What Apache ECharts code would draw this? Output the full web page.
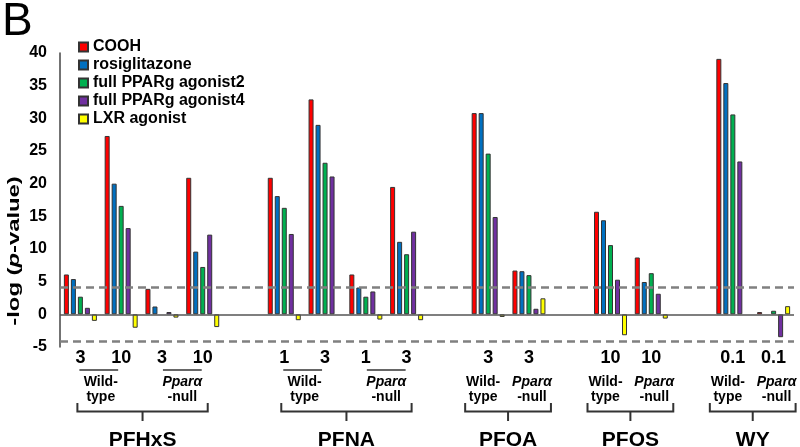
<!DOCTYPE html>
<html><head><meta charset="utf-8">
<script src="https://cdn.jsdelivr.net/npm/echarts@6/dist/echarts.min.js"></script>
<style>html,body{margin:0;padding:0;background:#fff}#c{width:800px;height:447px}</style>
</head><body><div id="c"></div>
<script>
const categories = ['PFHxS WT 3','PFHxS WT 10','PFHxS null 3','PFHxS null 10','gap1',
  'PFNA WT 1','PFNA WT 3','PFNA null 1','PFNA null 3','gap2',
  'PFOA WT 3','PFOA null 3','gap3','PFOS WT 10','PFOS null 10','gap4','WY WT 0.1','WY null 0.1'];
const doseLabels = ['3','10','3','10','','1','3','1','3','','3','3','','10','10','','0.1','0.1'];
const seriesNames = ['COOH','rosiglitazone','full PPARg agonist2','full PPARg agonist4','LXR agonist'];
const cooh   = [6.1, 27.3, 3.9, 20.9, null, 20.9, 32.9, 6.1, 19.5, null, 30.8, 6.7, null, 15.7, 8.7, null, 39.1, 0.35];
const rosi   = [5.4, 20.0, 1.2, 9.6, null, 18.1, 29.0, 4.1, 11.1, null, 30.8, 6.6, null, 14.4, 4.95, null, 35.4, null];
const agon2  = [2.7, 16.6, null, 7.25, null, 16.3, 23.2, 2.7, 9.2, null, 24.6, 6.0, null, 10.6, 6.3, null, 30.6, 0.55];
const agon4  = [1.0, 13.2, 0.35, 12.2, null, 12.3, 21.1, 3.5, 12.65, null, 14.9, 0.85, null, 5.3, 3.15, null, 23.4, -3.5];
const lxr    = [-1.0, -2.05, -0.5, -1.95, null, -0.9, null, -0.8, -0.9, null, -0.4, 2.45, null, -3.2, -0.65, null, null, 1.25];
const compounds = ['PFHxS','PFNA','PFOA','PFOS','WY'];
const compoundIdx = [[0,1,2,3],[5,6,7,8],[10,11],[13,14],[16,17]];
const thresholds = [4.1, -4.1];
const yMin = -5, yMax = 40, yStep = 5;

const FF = '"Liberation Sans", Arial, sans-serif';
const colors = ['#ff0000','#0070c0','#00b050','#7030a0','#ffff00'];
const allData = [cooh, rosi, agon2, agon4, lxr];

const chart = echarts.init(document.getElementById('c'));
const series = allData.map((d, k) => ({
  name: seriesNames[k], type: 'bar', data: d, barWidth: 5, barGap: '40%',
  itemStyle: { color: colors[k], borderColor: '#333', borderWidth: 1 },
  silent: true,
  markLine: k === 0 ? {
    silent: true, symbol: 'none', label: { show: false }, animation: false,
    data: [
      { yAxis: 0, lineStyle: { type: 'solid', color: '#555', width: 1.5 } },
      ...thresholds.map(t => ({ yAxis: t, lineStyle: { type: [8, 5], color: '#808080', width: 2.5 } }))
    ]
  } : undefined
}));

chart.setOption({
  animation: false,
  textStyle: { fontFamily: FF },
  grid: { left: 60, right: 6, top: 53, bottom: 100 },
  legend: {
    orient: 'vertical', left: 73, top: 34, icon: 'rect', itemWidth: 9, itemHeight: 9, itemGap: 2,
    textStyle: { fontSize: 16, fontWeight: 'bold', color: '#000', fontFamily: FF, lineHeight: 16 },
    data: seriesNames
  },
  xAxis: {
    type: 'category', data: categories,
    axisLine: { show: false, onZero: false }, axisTick: { show: false },
    axisLabel: { interval: 0, formatter: (v, i) => doseLabels[i], fontSize: 18, fontWeight: 'bold', color: '#000', margin: 2, fontFamily: FF }
  },
  yAxis: {
    type: 'value', min: yMin, max: yMax, interval: yStep,
    axisLine: { show: true, lineStyle: { color: '#444', width: 1.5 } },
    axisTick: { show: false }, splitLine: { show: false },
    axisLabel: { fontSize: 16, fontWeight: 'bold', color: '#000', margin: 13, fontFamily: FF }
  },
  series: series
});

const X = i => chart.convertToPixel({ xAxisIndex: 0 }, categories[i]);
const g = [];
const txt = (x, y, t, size, italic) => g.push({ type: 'text', x: x, y: y, silent: true,
  style: { text: t, fontSize: size, fontWeight: 'bold', fontStyle: italic ? 'italic' : 'normal', fill: '#000', fontFamily: FF, align: 'center', verticalAlign: 'middle' } });
const line = (pts, w) => g.push({ type: 'polyline', silent: true, shape: { points: pts }, style: { stroke: '#333', lineWidth: w || 2, fill: null } });

compoundIdx.forEach((idx, c) => {
  let x1, x2;
  if (idx.length === 4) {
    const wm = (X(idx[0]) + X(idx[1])) / 2, nm = (X(idx[2]) + X(idx[3])) / 2;
    line([[X(idx[0]) - 1, 370], [X(idx[1]) - 3, 370]], 1.5);
    line([[X(idx[2]) + 1, 370], [X(idx[3]) - 1, 370]], 1.5);
    txt(wm, 382, 'Wild-', 14); txt(wm, 397, 'type', 14);
    txt(nm, 382, 'Pparα', 14, true); txt(nm, 397, '-null', 14);
    x1 = X(idx[0]) - 3; x2 = X(idx[3]) + 5;
  } else {
    const w = X(idx[0]) - 5, n = X(idx[1]) + 3;
    txt(w, 382, 'Wild-', 14); txt(w, 397, 'type', 14);
    txt(n, 382, 'Pparα', 14, true); txt(n, 397, '-null', 14);
    x1 = X(idx[0]) - 23; x2 = X(idx[1]) + 22;
  }
  const xm = (x1 + x2) / 2;
  line([[x1, 403], [x1, 411.5], [x2, 411.5], [x2, 403]], 2);
  line([[xm, 411.5], [xm, 421]], 2);
  txt(xm, 440, compounds[c], 21);
});

g.push({ type: 'text', x: 14, y: 251, rotation: Math.PI / 2, scaleX: 1.4, silent: true,
  style: { text: '{a|-log (}{b|p}{a|-value)}', align: 'center', verticalAlign: 'middle',
    rich: { a: { fontSize: 17, fontWeight: 'bold', fontFamily: FF, fill: '#000' },
            b: { fontSize: 17, fontWeight: 'bold', fontStyle: 'italic', fontFamily: FF, fill: '#000' } } } });
g.push({ type: 'text', x: 2, y: 22, silent: true,
  style: { text: 'B', fontSize: 46, fontFamily: FF, fill: '#000', align: 'left', verticalAlign: 'middle' } });

chart.setOption({ graphic: g });
</script></body></html>
